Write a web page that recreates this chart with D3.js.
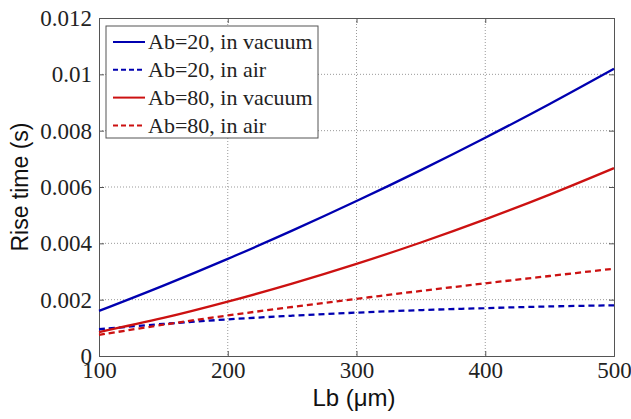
<!DOCTYPE html>
<html><head><meta charset="utf-8">
<script src="https://cdn.jsdelivr.net/npm/d3@7"></script>
<style>body{margin:0;background:#fff}</style>
</head><body>
<svg id="c" width="631" height="419"></svg>
<script>
const lb = [100,150,200,250,300,350,400,450,500];
const ab20Vacuum = [0.0016,0.0025,0.00345,0.00445,0.0055,0.0066,0.00775,0.00895,0.0102];
const ab20Air    = [0.00095,0.00114,0.0013,0.00143,0.00154,0.00163,0.0017,0.00176,0.0018];
const ab80Vacuum = [0.00085,0.00135,0.00193,0.00257,0.00327,0.00403,0.00485,0.00573,0.00667];
const ab80Air    = [0.00075,0.00111,0.00144,0.00174,0.00203,0.00231,0.00258,0.00284,0.0031];
const xTicks = [100,200,300,400,500];
const yTicks = [0,0.002,0.004,0.006,0.008,0.01,0.012];
const yTickLabels = ["0","0.002","0.004","0.006","0.008","0.01","0.012"];
const seriesNames = ["Ab=20, in vacuum","Ab=20, in air","Ab=80, in vacuum","Ab=80, in air"];
const seriesColors = ["#0000b0","#0000b0","#cc1111","#cc1111"];
const seriesDash = [null,"6,4",null,"6,4"];
const seriesData = [ab20Vacuum,ab20Air,ab80Vacuum,ab80Air];

const L=99,R=614,T=18,B=356;
const svg=d3.select("#c");
const x=d3.scaleLinear().domain([100,500]).range([L,R]);
const y=d3.scaleLinear().domain([0,0.012]).range([B,T]);

// grid
svg.append("g").selectAll("line").data(xTicks.slice(1,-1)).join("line")
 .attr("x1",d=>x(d)).attr("x2",d=>x(d)).attr("y1",T).attr("y2",B)
 .attr("stroke","#999").attr("stroke-dasharray","1,2").attr("stroke-width",1);
svg.append("g").selectAll("line").data(yTicks.slice(1,-1)).join("line")
 .attr("y1",d=>y(d)).attr("y2",d=>y(d)).attr("x1",L).attr("x2",R)
 .attr("stroke","#999").attr("stroke-dasharray","1,2").attr("stroke-width",1);

const font="'Liberation Serif','Times New Roman',serif";
// axes
const xa=svg.append("g").attr("transform",`translate(0,${B})`)
 .call(d3.axisBottom(x).tickValues(xTicks).tickSize(-5).tickFormat(d3.format("d")));
const xa2=svg.append("g").attr("transform",`translate(0,${T})`)
 .call(d3.axisTop(x).tickValues(xTicks).tickSize(-5).tickFormat(""));
const ya=svg.append("g").attr("transform",`translate(${L},0)`)
 .call(d3.axisLeft(y).tickValues(yTicks).tickSize(-5).tickPadding(7).tickFormat((d,i)=>yTickLabels[i]));
const ya2=svg.append("g").attr("transform",`translate(${R},0)`)
 .call(d3.axisRight(y).tickValues(yTicks).tickSize(-5).tickFormat(""));
[xa,xa2,ya,ya2].forEach(g=>{
  g.selectAll("path").attr("stroke","#555");
  g.selectAll("line").attr("stroke","#555");
  g.selectAll("text").attr("font-family",font).attr("font-size",23).attr("fill","#222");
});
xa.selectAll("text").attr("y",22).attr("dy","0");
ya.selectAll("text").attr("dy","0.33em");

// lines
const line=d3.line().x((d,i)=>x(lb[i])).y(d=>y(d)).curve(d3.curveCatmullRom);
seriesData.forEach((s,i)=>{
  svg.append("path").datum(s).attr("d",line).attr("fill","none")
   .attr("stroke",seriesColors[i]).attr("stroke-width",2.3)
   .attr("stroke-dasharray",seriesDash[i]);
});

// legend
const lg=svg.append("g");
lg.append("rect").attr("x",106).attr("y",26).attr("width",212).attr("height",112)
 .attr("fill","#fff").attr("stroke","#555").attr("stroke-width",1);
seriesNames.forEach((n,i)=>{
  const yy=42+i*27.8;
  lg.append("line").attr("x1",113).attr("x2",145).attr("y1",yy).attr("y2",yy)
   .attr("stroke",seriesColors[i]).attr("stroke-width",2).attr("stroke-dasharray",seriesDash[i]?"5,3":null);
  lg.append("text").attr("x",148).attr("y",yy).attr("dy","0.33em")
   .attr("font-family",font).attr("font-size",22).attr("fill","#222").text(n);
});

// titles
const sans="'Liberation Sans',Arial,sans-serif";
svg.append("text").attr("x",354).attr("y",406).attr("text-anchor","middle")
 .attr("font-family",sans).attr("font-size",24).attr("fill","#111").text("Lb (μm)");
svg.append("text").attr("transform",`translate(28,187) rotate(-90)`).attr("text-anchor","middle")
 .attr("font-family",sans).attr("font-size",23).attr("fill","#111").text("Rise time (s)");
</script>
</body></html>
